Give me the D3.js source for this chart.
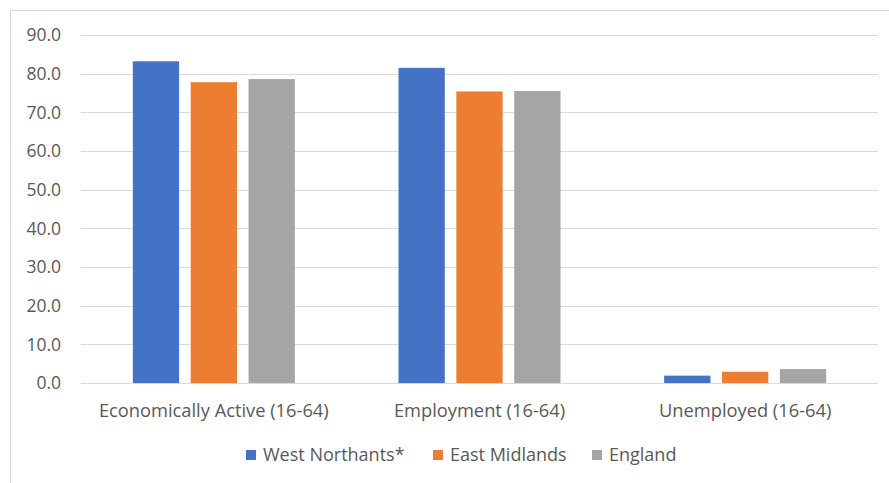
<!DOCTYPE html>
<html>
<head>
<meta charset="utf-8">
<title>Economic activity</title>
<style>
  body { margin: 0; background: #fff; }
  text { font-family: "Open Sans", "Noto Sans", sans-serif; fill: #595959; }
</style>
</head>
<body>
<script src="https://d3js.org/d3.v7.min.js"></script>
<script>

    var width = 889,
        height = 483;

    var categories = ['Economically Active (16-64)', 'Employment (16-64)', 'Unemployed (16-64)'];
    var seriesNames = ['West Northants*', 'East Midlands', 'England'];
    var colors = ['#4472C4', '#ED7D31', '#A5A5A5'];
    var westNorthants = [83.2, 81.5, 1.9];
    var eastMidlands = [77.8, 75.4, 2.9];
    var england = [78.6, 75.5, 3.6];
    var yTicks = [0, 10, 20, 30, 40, 50, 60, 70, 80, 90];

    var seriesValues = [westNorthants, eastMidlands, england];

    var svg = d3.select('body').append('svg')
        .attr('width', width)
        .attr('height', height);

    // chart frame (cut off at right and bottom like the screenshot)
    svg.append('rect')
        .attr('x', 10.5).attr('y', 10.5)
        .attr('width', 900).attr('height', 500)
        .attr('fill', 'none')
        .attr('stroke', '#D9D9D9');

    var x0 = d3.scaleBand()
        .domain(categories)
        .range([81, 878]);

    var cluster = 162;
    var x1 = d3.scaleBand()
        .domain(seriesNames)
        .range([(x0.bandwidth() - cluster) / 2, (x0.bandwidth() + cluster) / 2])
        .paddingInner(0.2);

    var y = d3.scaleLinear()
        .domain([0, 90])
        .range([383, 35]);

    // gridlines
    svg.append('g')
        .selectAll('line')
        .data(yTicks)
        .enter().append('line')
        .attr('x1', 81).attr('x2', 878)
        .attr('y1', function (d) { return Math.round(y(d)) + 0.5; })
        .attr('y2', function (d) { return Math.round(y(d)) + 0.5; })
        .attr('stroke', '#D9D9D9')
        .attr('stroke-width', 1);

    // y labels
    svg.append('g')
        .selectAll('text')
        .data(yTicks)
        .enter().append('text')
        .attr('x', 61)
        .attr('y', function (d) { return y(d); })
        .attr('dy', '0.36em')
        .attr('text-anchor', 'end')
        .style('font-size', '17.5px')
        .text(function (d) { return d3.format('.1f')(d); });

    // bars
    var groups = svg.append('g')
        .selectAll('g')
        .data(categories)
        .enter().append('g')
        .attr('transform', function (d) { return 'translate(' + x0(d) + ',0)'; });

    groups.selectAll('rect')
        .data(function (d, i) {
            return seriesNames.map(function (s, j) {
                return { series: s, value: seriesValues[j][i], color: colors[j] };
            });
        })
        .enter().append('rect')
        .attr('x', function (d) { return x1(d.series); })
        .attr('width', x1.bandwidth())
        .attr('y', function (d) { return y(d.value); })
        .attr('height', function (d) { return y(0) - y(d.value); })
        .attr('fill', function (d) { return d.color; });

    // category labels
    svg.append('g')
        .selectAll('text')
        .data(categories)
        .enter().append('text')
        .attr('x', function (d) { return x0(d) + x0.bandwidth() / 2; })
        .attr('y', 417)
        .attr('text-anchor', 'middle')
        .style('font-size', '18.3px')
        .text(function (d) { return d; });

    // legend
    var legendX = [246, 433, 592];
    var legend = svg.append('g')
        .selectAll('g')
        .data(seriesNames)
        .enter().append('g')
        .attr('transform', function (d, i) { return 'translate(' + legendX[i] + ',450)'; });

    legend.append('rect')
        .attr('width', 10).attr('height', 10)
        .attr('fill', function (d, i) { return colors[i]; });

    legend.append('text')
        .attr('x', 17)
        .attr('y', 5)
        .attr('dy', '0.36em')
        .style('font-size', '18px')
        .text(function (d) { return d; });

</script>
</body>
</html>
